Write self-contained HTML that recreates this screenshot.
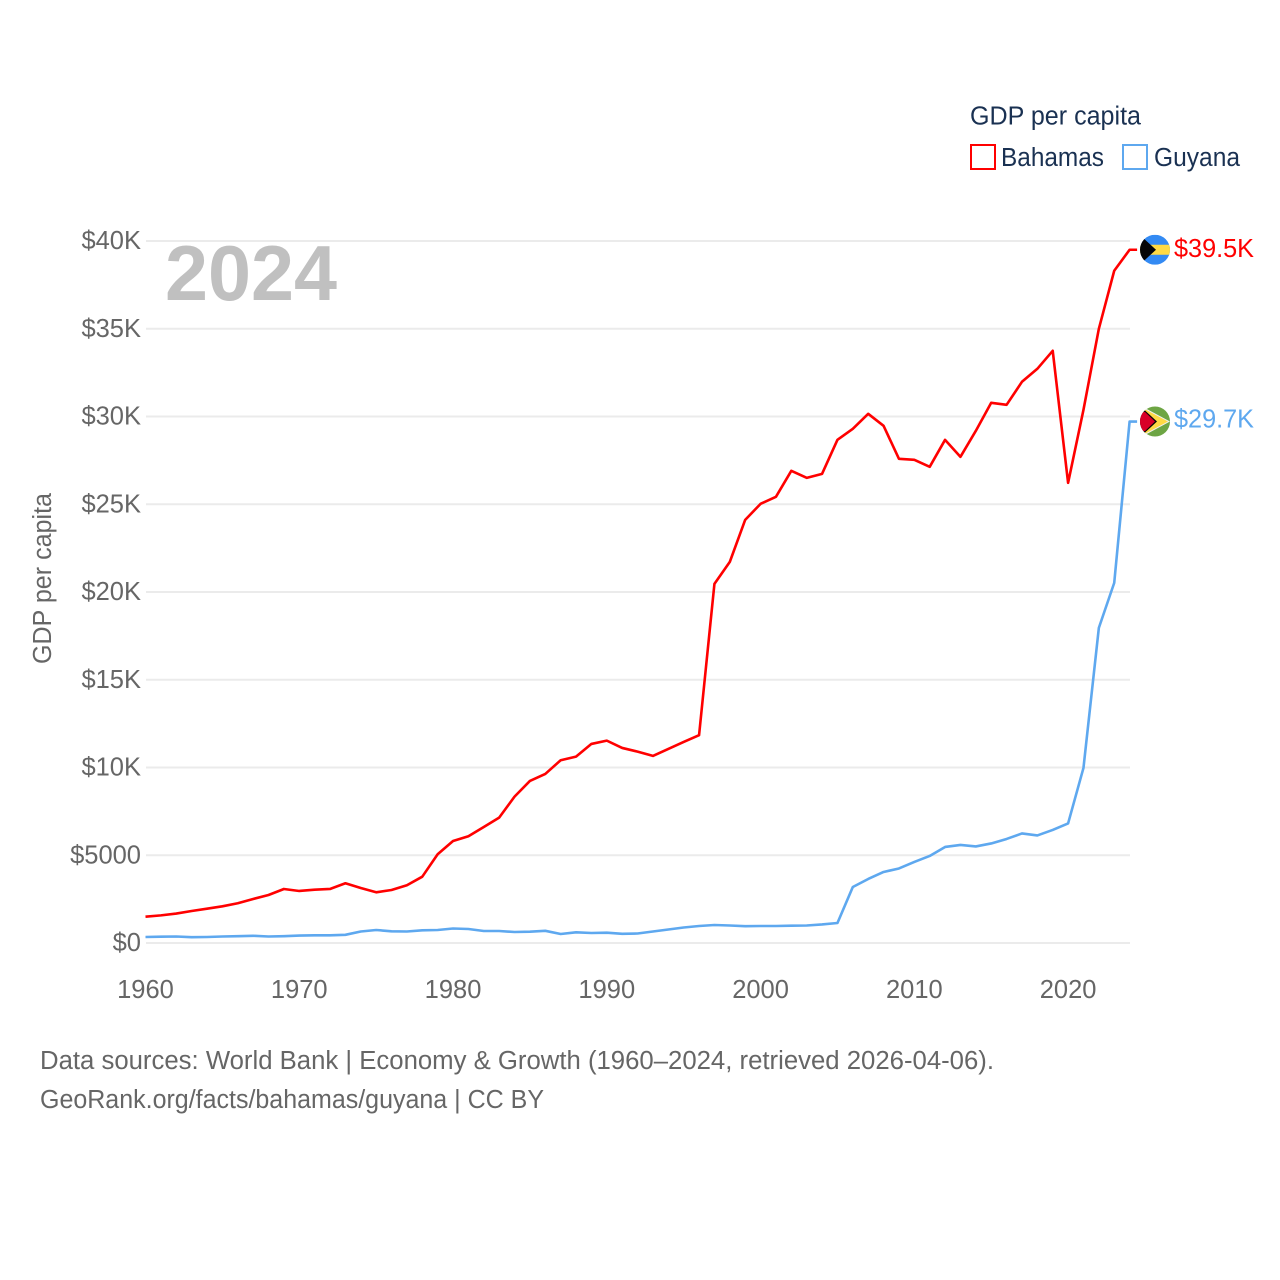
<!DOCTYPE html>
<html lang="en">
<head>
<meta charset="utf-8">
<title>GDP per capita: Bahamas and Guyana</title>
<style>
html,body{margin:0;padding:0;background:#fff;}
svg{display:block;}
text{font-family:"Liberation Sans",sans-serif;}
.tick{font-size:25.5px;fill:#666;}
.foot{font-size:25.5px;fill:#666;}
.leg{font-size:25.5px;fill:#1a3152;}
</style>
</head>
<body>
<svg id="chart" xmlns="http://www.w3.org/2000/svg" width="1280" height="1280" viewBox="0 0 1280 1280">
  <rect width="1280" height="1280" fill="#fff"/>
  <g id="grid"></g>
  <g id="yticks"></g>
  <g id="xticks"></g>
  <text x="165" y="300" font-size="78" font-weight="bold" fill="#c0c0c0" textLength="172" lengthAdjust="spacingAndGlyphs">2024</text>
  <text transform="translate(51,664) rotate(-90)" x="0" y="0" font-size="25.5" fill="#666" textLength="171" lengthAdjust="spacingAndGlyphs">GDP per capita</text>
  <g id="series"></g>
  <g id="ends"></g>
  <g>
    <text class="leg" x="970" y="124.5" textLength="171" lengthAdjust="spacingAndGlyphs">GDP per capita</text>
    <g>
      <rect x="971" y="145" width="24" height="24" fill="none" stroke="#ff0000" stroke-width="2"/>
      <text class="leg" x="1001" y="166" textLength="103" lengthAdjust="spacingAndGlyphs">Bahamas</text>
    </g>
    <g>
      <rect x="1123" y="145" width="24" height="24" fill="none" stroke="#5ea8ef" stroke-width="2"/>
      <text class="leg" x="1154" y="166" textLength="86" lengthAdjust="spacingAndGlyphs">Guyana</text>
    </g>
  </g>
  <text class="foot" x="40" y="1069" textLength="954" lengthAdjust="spacingAndGlyphs">Data sources: World Bank | Economy &amp; Growth (1960–2024, retrieved 2026-04-06).</text>
  <text class="foot" x="40" y="1108" textLength="504" lengthAdjust="spacingAndGlyphs">GeoRank.org/facts/bahamas/guyana | CC BY</text>
</svg>
<script>
const firstYear = 1960;
const yTickValues = [0, 5000, 10000, 15000, 20000, 25000, 30000, 35000, 40000];
const yTickLabels = ["$0", "$5000", "$10K", "$15K", "$20K", "$25K", "$30K", "$35K", "$40K"];
const xTickYears = [1960, 1970, 1980, 1990, 2000, 2010, 2020];
const bahamasValues = [1500,1573,1676,1824,1955,2092,2263,2508,2736,3078,2964,3038,3078,3403,3135,2890,3021,3289,3779,5056,5814,6082,6612,7142,8339,9234,9633,10414,10619,11343,11531,11115,10904,10659,11058,11457,11839,20463,21717,24111,25023,25422,26904,26505,26733,28671,29298,30153,29469,27588,27531,27132,28671,27702,29184,30780,30666,31977,32718,33744,26220,30381,34998,38304,39501];
const guyanaValues = [342,359,370,331,342,370,388,410,370,388,422,439,439,467,655,741,667,655,724,741,826,798,684,684,627,644,695,513,610,570,587,524,541,655,770,884,969,1026,998,958,969,969,986,998,1055,1140,3192,3648,4047,4247,4617,4959,5472,5586,5501,5672,5928,6242,6128,6441,6812,9975,17955,20520,29714];
const endLabels = ["$39.5K", "$29.7K"];

const NS = "http://www.w3.org/2000/svg";
const xScale = function (year) { return 145.5 + (year - 1960) * (1129.6 - 145.5) / 64; };
const yScale = function (v) { return 943 - v * 702 / 40000; };
const mk = function (tag, parent) {
  const el = document.createElementNS(NS, tag);
  parent.appendChild(el);
  return el;
};

const grid = document.getElementById("grid");
const yticks = document.getElementById("yticks");
yTickValues.forEach(function (v, i) {
  const line = mk("line", grid);
  
  
  line.setAttribute("x1", 146);
  line.setAttribute("x2", 1130);
  line.setAttribute("y1", yScale(v));
  line.setAttribute("y2", yScale(v));
  line.setAttribute("stroke", "#ebebeb");
  line.setAttribute("stroke-width", 2);
  const t = mk("text", yticks);
  
  
  t.setAttribute("class", "tick");
  t.setAttribute("x", 141);
  t.setAttribute("y", yScale(v) + 8);
  t.setAttribute("text-anchor", "end");
  t.textContent = yTickLabels[i];
});

const xticks = document.getElementById("xticks");
xTickYears.forEach(function (year) {
  const t = mk("text", xticks);
  
  
  t.setAttribute("class", "tick");
  t.setAttribute("x", xScale(year));
  t.setAttribute("y", 998);
  t.setAttribute("text-anchor", "middle");
  t.textContent = String(year);
});

const seriesGroup = document.getElementById("series");
const endsGroup = document.getElementById("ends");

const drawLine = function (values, color) {
  let d = "";
  values.forEach(function (v, i) {
    d += (i ? "L" : "M") + xScale(firstYear + i).toFixed(2) + " " + yScale(v).toFixed(2);
  });
  const lastV = values[values.length - 1];
  d += "L" + (xScale(firstYear + values.length - 1) + 7.5).toFixed(2) + " " + yScale(lastV).toFixed(2);
  const p = mk("path", seriesGroup);
  p.setAttribute("d", d);
  p.setAttribute("fill", "none");
  p.setAttribute("stroke", color);
  p.setAttribute("stroke-width", 2.6);
  p.setAttribute("stroke-linejoin", "round");
  return p;
};

const bahamasLine = drawLine(bahamasValues, "#ff0000");


const guyanaLine = drawLine(guyanaValues, "#5ea8ef");



const flagX = xScale(firstYear + 64) + 25.4;

const defs = mk("defs", endsGroup);
const clip = mk("clipPath", defs);
clip.setAttribute("id", "flag-clip");
const clipC = mk("circle", clip);
clipC.setAttribute("r", 15);

const poly = function (parent, pts, fill) {
  const el = mk("polygon", parent);
  el.setAttribute("points", pts);
  el.setAttribute("fill", fill);
};

/* Bahamas flag */
const bY = yScale(bahamasValues[bahamasValues.length - 1]);
const bFlag = mk("g", endsGroup);


bFlag.setAttribute("transform", "translate(" + flagX + "," + bY + ")");
bFlag.setAttribute("clip-path", "url(#flag-clip)");
poly(bFlag, "-15,-15 15,-15 15,15 -15,15", "#338af3");
poly(bFlag, "-15,-5 15,-5 15,5 -15,5", "#ffda44");
poly(bFlag, "-15,-15 -11,-11 1,0 -11,11 -15,15", "#060606");

const bLabel = mk("text", endsGroup);


bLabel.setAttribute("x", 1174);
bLabel.setAttribute("y", bY + 7);
bLabel.setAttribute("font-size", 25.5);
bLabel.setAttribute("fill", "#ff0000");
bLabel.setAttribute("textLength", 80);
bLabel.setAttribute("lengthAdjust", "spacingAndGlyphs");
bLabel.textContent = endLabels[0];

/* Guyana flag */
const gY = yScale(guyanaValues[guyanaValues.length - 1]);
const gFlag = mk("g", endsGroup);


gFlag.setAttribute("transform", "translate(" + flagX + "," + gY + ")");
gFlag.setAttribute("clip-path", "url(#flag-clip)");
poly(gFlag, "-15,-15 15,-15 15,15 -15,15", "#6da544");
poly(gFlag, "-15,-15 -11,-14 15,0 -11,14 -15,15", "#f0f0f0");
poly(gFlag, "-13,-13 -10.5,-12.5 13,0 -10.5,12.5 -13,13", "#ffda44");
poly(gFlag, "-15,-12 -10,-11 2,0 -10,11 -15,12", "#060606");
poly(gFlag, "-15,-10 -10,-9.5 0,0 -10,9.5 -15,10", "#d80027");

const gLabel = mk("text", endsGroup);


gLabel.setAttribute("x", 1174);
gLabel.setAttribute("y", gY + 6);
gLabel.setAttribute("font-size", 25.5);
gLabel.setAttribute("fill", "#5ea8ef");
gLabel.setAttribute("textLength", 80);
gLabel.setAttribute("lengthAdjust", "spacingAndGlyphs");
gLabel.textContent = endLabels[1];
</script>
</body>
</html>
